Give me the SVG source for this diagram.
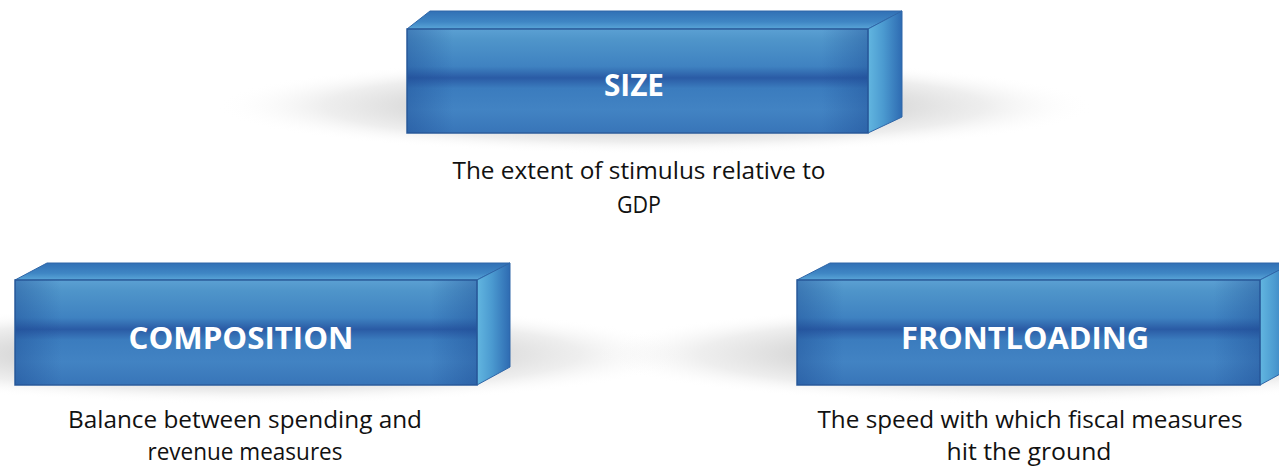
<svg xmlns="http://www.w3.org/2000/svg" width="1279" height="468" viewBox="0 0 1279 468">
<style>
.title{font-family:"Open Sans",Lato,"Liberation Sans",sans-serif;font-weight:700;font-size:31px;fill:#ffffff;text-anchor:middle}
.desc{font-family:"Open Sans",Lato,"Liberation Sans",sans-serif;font-size:23.5px;fill:#111111;text-anchor:middle}
.front{fill:url(#gFront);stroke:#2d5d9c;stroke-width:1.5}
.vig{fill:url(#gVig)}
.top{fill:url(#gTop);stroke:#2f66a8;stroke-width:1}
.side{fill:url(#gSide);stroke:#2f66a8;stroke-width:1}
.shadow{fill:url(#gShadow)}
</style>
<defs>
<linearGradient id="gFront" x1="0" y1="0" x2="0" y2="1">
<stop offset="0" stop-color="#5ba0d3"/>
<stop offset="0.1" stop-color="#4f95ca"/>
<stop offset="0.36" stop-color="#3f82c1"/>
<stop offset="0.47" stop-color="#2a5ba5"/>
<stop offset="0.57" stop-color="#3b7cbe"/>
<stop offset="0.78" stop-color="#4283c3"/>
<stop offset="1" stop-color="#3875b8"/>
</linearGradient>
<linearGradient id="gVig" x1="0" y1="0" x2="1" y2="0">
<stop offset="0" stop-color="#1c4a92" stop-opacity="0.4"/>
<stop offset="0.1" stop-color="#1c4a92" stop-opacity="0"/>
<stop offset="0.9" stop-color="#1c4a92" stop-opacity="0"/>
<stop offset="1" stop-color="#1c4a92" stop-opacity="0.4"/>
</linearGradient>
<linearGradient id="gTop" x1="0" y1="0" x2="0" y2="1">
<stop offset="0" stop-color="#3170b5"/>
<stop offset="0.6" stop-color="#3f86c4"/>
<stop offset="1" stop-color="#5aa6d8"/>
</linearGradient>
<linearGradient id="gSide" x1="0" y1="0" x2="1" y2="0">
<stop offset="0" stop-color="#62b6e0"/>
<stop offset="0.45" stop-color="#4b9ad0"/>
<stop offset="1" stop-color="#2e6bb2"/>
</linearGradient>
<radialGradient id="gShadow" cx="0.5" cy="0.5" r="0.5">
<stop offset="0" stop-color="#b8b8b8"/>
<stop offset="0.45" stop-color="#c8c8c8" stop-opacity="0.85"/>
<stop offset="0.75" stop-color="#dddddd" stop-opacity="0.5"/>
<stop offset="1" stop-color="#ffffff" stop-opacity="0"/>
</radialGradient>
</defs>
<rect width="1279" height="468" fill="#ffffff"/>
<g id="connectors"></g>
<g id="node-size">
<ellipse class="shadow" cx="655" cy="106" rx="440" ry="48"/>
<polygon class="top" points="407,29 430,11 902,11 868,29"/>
<polygon class="side" points="868,29 902,11 902,117 868,133"/>
<rect class="front" x="407" y="29" width="461" height="104"/>
<rect class="vig" x="407" y="29" width="461" height="104"/>
<text class="title" x="634" y="96" textLength="60" lengthAdjust="spacingAndGlyphs">SIZE</text>
<text class="desc" x="639" y="179" textLength="373" lengthAdjust="spacingAndGlyphs">The extent of stimulus relative to</text>
<text class="desc" x="639" y="213" textLength="44" lengthAdjust="spacingAndGlyphs">GDP</text>
</g>
<g id="node-composition">
<ellipse class="shadow" cx="250" cy="354" rx="440" ry="50"/>
<polygon class="top" points="15,280 47,263 510,263 477,280"/>
<polygon class="side" points="477,280 510,263 510,367 477,385"/>
<rect class="front" x="15" y="280" width="462" height="105"/>
<rect class="vig" x="15" y="280" width="462" height="105"/>
<text class="title" x="241" y="349" textLength="225" lengthAdjust="spacingAndGlyphs">COMPOSITION</text>
<text class="desc" x="245" y="428" textLength="354" lengthAdjust="spacingAndGlyphs">Balance between spending and</text>
<text class="desc" x="245" y="460" textLength="195" lengthAdjust="spacingAndGlyphs">revenue measures</text>
</g>
<g id="node-frontloading">
<ellipse class="shadow" cx="1030" cy="354" rx="440" ry="50"/>
<polygon class="top" points="797,280 830,263 1293,263 1260,280"/>
<polygon class="side" points="1260,280 1293,263 1293,367 1260,385"/>
<rect class="front" x="797" y="280" width="463" height="105"/>
<rect class="vig" x="797" y="280" width="463" height="105"/>
<text class="title" x="1025" y="349" textLength="248" lengthAdjust="spacingAndGlyphs">FRONTLOADING</text>
<text class="desc" x="1030" y="428" textLength="425" lengthAdjust="spacingAndGlyphs">The speed with which fiscal measures</text>
<text class="desc" x="1029" y="460" textLength="165" lengthAdjust="spacingAndGlyphs">hit the ground</text>
</g>
</svg>
